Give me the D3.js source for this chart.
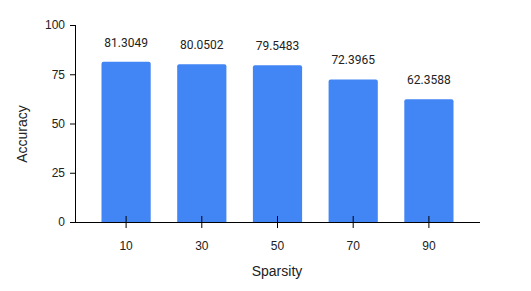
<!DOCTYPE html>
<html><head><meta charset="utf-8">
<script src="https://cdn.jsdelivr.net/npm/d3@7"></script>
<style>body{margin:0;background:#fff}svg{display:block}</style>
</head><body>
<svg id="c" width="531" height="291"></svg>
<script>
const categories = ["10","30","50","70","90"];
const values = [81.3049, 80.0502, 79.5483, 72.3965, 62.3588];
const yTicks = [0, 25, 50, 75, 100];
const labels = ["81.3049","80.0502","79.5483","72.3965","62.3588"];

const svg = d3.select("#c");
const x = d3.scaleBand().domain(categories).range([75, 480]).paddingInner(0.35).paddingOuter(0.35);
const y = d3.scaleLinear().domain([0, 100]).range([222, 25]);

// bars with rounded top corners
const r = 2;
svg.append("g").selectAll("path").data(values).join("path")
  .attr("fill", "#4285F4")
  .attr("d", (d, i) => {
    const x0 = x(categories[i]), w = x.bandwidth(), y0 = y(d), yb = y(0);
    return `M${x0},${yb}V${y0 + r}Q${x0},${y0} ${x0 + r},${y0}H${x0 + w - r}Q${x0 + w},${y0} ${x0 + w},${y0 + r}V${yb}Z`;
  });

// value labels
svg.append("g").selectAll("text").data(values).join("text")
  .attr("x", (d, i) => x(categories[i]) + x.bandwidth() / 2)
  .attr("y", d => y(d) - 15)
  .attr("text-anchor", "middle")
  .attr("font-family", "Roboto, sans-serif")
  .attr("font-size", 12)
  .attr("fill", "#222")
  .text((d, i) => labels[i]);

// y axis
const yAxis = svg.append("g").attr("transform", "translate(75,0)")
  .call(d3.axisLeft(y).tickValues(yTicks).tickSize(5).tickPadding(5));
yAxis.select(".domain").attr("d", "M0.5,25V222").attr("stroke", "#000");
yAxis.selectAll(".tick line").attr("stroke", "#000");
yAxis.selectAll(".tick text").attr("font-family", "'Liberation Sans', Arial, sans-serif").attr("font-size", 12).attr("fill", "#222");

// x axis
const xAxis = svg.append("g").attr("transform", "translate(0,222)")
  .call(d3.axisBottom(x).tickSize(6).tickPadding(13));
xAxis.select(".domain").attr("d", "M75,0.5H480").attr("stroke", "#000");
xAxis.selectAll(".tick line").attr("y1", -6).attr("y2", 6).attr("stroke", "#000");
xAxis.selectAll(".tick text").attr("font-family", "'Liberation Sans', Arial, sans-serif").attr("font-size", 12).attr("fill", "#222");

// titles
svg.append("text").attr("x", 277).attr("y", 276).attr("text-anchor", "middle")
  .attr("font-family", "'Liberation Sans', Arial, sans-serif").attr("font-size", 14).attr("fill", "#222").text("Sparsity");
svg.append("text").attr("transform", "translate(27,134) rotate(-90)").attr("text-anchor", "middle")
  .attr("font-family", "'Liberation Sans', Arial, sans-serif").attr("font-size", 14).attr("fill", "#222").text("Accuracy");
</script>
</body></html>
